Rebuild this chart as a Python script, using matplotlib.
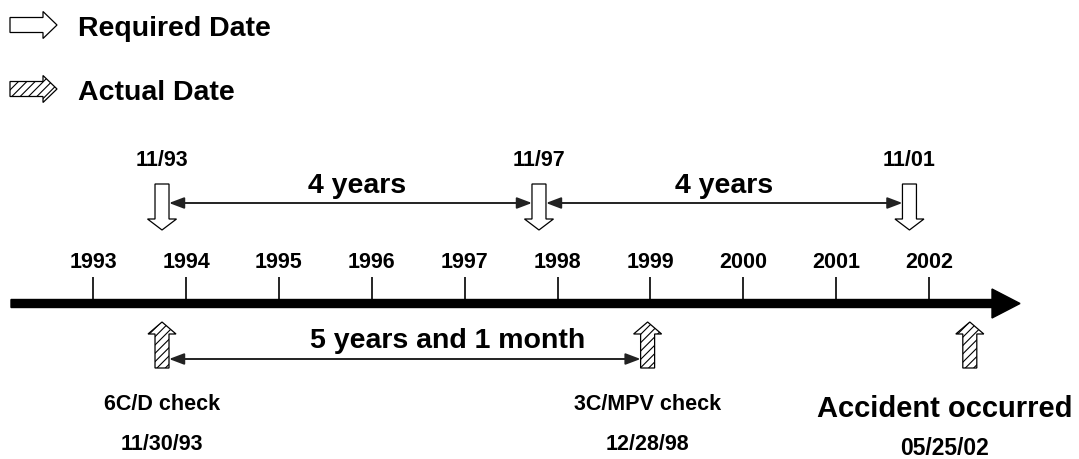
import matplotlib
matplotlib.use("Agg")
import matplotlib.pyplot as plt
from matplotlib.patches import Polygon

plt.rcParams["font.family"] = ["Liberation Sans", "DejaVu Sans"]
plt.rcParams["font.weight"] = "bold"
plt.rcParams["hatch.linewidth"] = 0.8

# -------------------------------------------------
# Data (positions in decimal years)
# -------------------------------------------------
years = list(range(1993, 2003))

req_labels = ["11/93", "11/97", "11/01"]
req_pos = [1993.74, 1997.80, 2001.79]
req_span_text = ["4 years", "4 years"]
req_span_text_x = [1995.845, 1999.79]

act_labels = ["6C/D check", "3C/MPV check", "Accident occurred"]
act_dates = ["11/30/93", "12/28/98", "05/25/02"]
act_pos = [1993.74, 1998.97, 2002.44]
act_span_text = "5 years and 1 month"
act_span_text_x = 1996.815

legend_labels = ["Required Date", "Actual Date"]

# -------------------------------------------------
# Layout: x axis in years, y axis in pixels (top = 0)
# -------------------------------------------------
PPY = 92.85                 # pixels per year
X0 = 1993 - 93.3 / PPY      # year at the left edge of the figure


def px(p):
    return X0 + p / PPY


def w(p):
    return p / PPY


fig = plt.figure(figsize=(10.79, 4.6), dpi=100)
ax = fig.add_axes([0, 0, 1, 1])
ax.set_xlim(px(0), px(1079))
ax.set_ylim(460, 0)
ax.axis("off")


def v_arrow(xc, y_tail, y_tip, shaft=14, head=29, head_len=12, **kw):
    s = 1 if y_tip > y_tail else -1
    yb = y_tip - s * head_len
    hs, hh = w(shaft) / 2, w(head) / 2
    pts = [(xc - hs, y_tail), (xc + hs, y_tail), (xc + hs, yb), (xc + hh, yb),
           (xc, y_tip), (xc - hh, yb), (xc - hs, yb)]
    ax.add_patch(Polygon(pts, closed=True, **kw))


def h_arrow(x_tail, x_tip, yc, shaft=15, head=27, head_len=14, **kw):
    xb = x_tip - w(head_len)
    pts = [(x_tail, yc - shaft / 2), (xb, yc - shaft / 2), (xb, yc - head / 2),
           (x_tip, yc), (xb, yc + head / 2), (xb, yc + shaft / 2), (x_tail, yc + shaft / 2)]
    ax.add_patch(Polygon(pts, closed=True, **kw))


hollow = dict(facecolor="white", edgecolor="black", linewidth=0.9)
hatched = dict(facecolor="white", edgecolor="black", linewidth=0.9, hatch="////")


def span(x1, x2, y):
    ax.annotate("", xy=(x1, y), xytext=(x2, y),
                arrowprops=dict(arrowstyle="<|-|>,head_length=0.9,head_width=0.34",
                                mutation_scale=10, color="#222222", lw=1.4,
                                shrinkA=0, shrinkB=0))


# legend
h_arrow(px(10), px(57), 26, **hollow)
h_arrow(px(10), px(57), 90, **hatched)
ax.text(px(78), 36, legend_labels[0], fontsize=20.5, ha="left", va="baseline")
ax.text(px(78), 100, legend_labels[1], fontsize=20.5, ha="left", va="baseline")

# main time line
axis_y = 304.5
ax.add_patch(Polygon([(px(11), axis_y - 4), (px(992), axis_y - 4), (px(992), axis_y - 14.5),
                      (px(1020), axis_y), (px(992), axis_y + 14.5), (px(992), axis_y + 4),
                      (px(11), axis_y + 4)], closed=True, facecolor="black", edgecolor="black"))
ax.vlines(years, 278, axis_y, color="black", lw=1.2)
for yr in years:
    ax.text(yr, 268, str(yr), fontsize=15.5, ha="center", va="baseline")

# required dates (top)
for x, lab in zip(req_pos, req_labels):
    v_arrow(x, 185, 231, shaft=14, head=29, head_len=11, **hollow)
    ax.text(x, 166, lab, fontsize=15.5, ha="center", va="baseline")
for i in range(len(req_pos) - 1):
    span(req_pos[i] + w(7), req_pos[i + 1] - w(7), 204)
    ax.text(req_span_text_x[i], 193, req_span_text[i], fontsize=20.5,
            ha="center", va="baseline")

# actual dates (bottom)
for x in act_pos:
    v_arrow(x, 369, 323, shaft=14, head=28, head_len=12, **hatched)
span(act_pos[0] + w(7), act_pos[1] - w(7), 360)
ax.text(act_span_text_x, 348, act_span_text, fontsize=20.5, ha="center", va="baseline")

ax.text(act_pos[0], 410, act_labels[0], fontsize=15.5, ha="center", va="baseline")
ax.text(act_pos[0], 450, act_dates[0], fontsize=15.5, ha="center", va="baseline")
ax.text(act_pos[1], 410, act_labels[1], fontsize=15.5, ha="center", va="baseline")
ax.text(act_pos[1], 450, act_dates[1], fontsize=15.5, ha="center", va="baseline")
ax.text(px(945), 417, act_labels[2], fontsize=21, ha="center", va="baseline")
ax.text(px(944), 455, act_dates[2], fontsize=16.5, ha="center", va="baseline")

fig.savefig("out.png", dpi=100)
